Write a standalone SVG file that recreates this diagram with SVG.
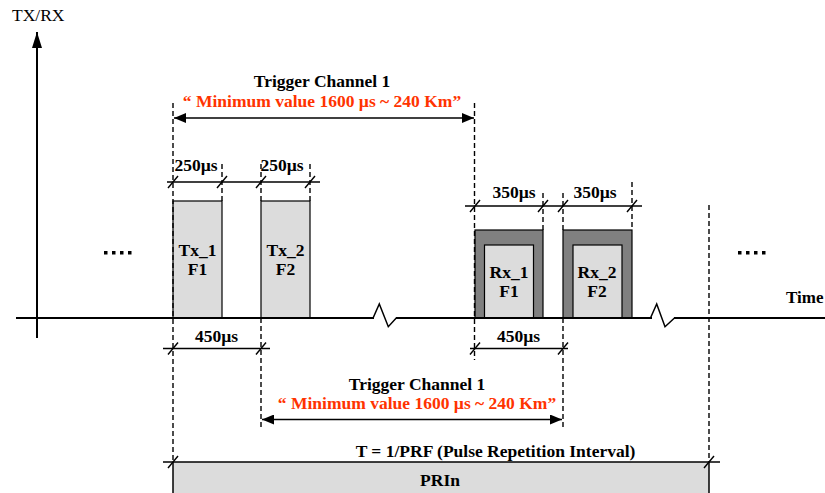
<svg xmlns="http://www.w3.org/2000/svg" width="825" height="493" viewBox="0 0 825 493">
<style>
text{font-family:"Liberation Serif","Times New Roman",serif;font-size:17.5px;font-weight:bold;fill:#000}
.c{text-anchor:middle}
.red{fill:#ff3300}
.reg{font-weight:normal;font-size:17.5px}
.ax{stroke:#000;stroke-width:2;fill:none}
.ln{stroke:#000;stroke-width:1.5;fill:none}
.dash{stroke:#000;stroke-width:1.4;stroke-dasharray:5,3;fill:none}
.tick{stroke:#000;stroke-width:1.4}
.lt{fill:#dcdcdc;stroke:#000;stroke-width:1.2}
.dk{fill:#808080;stroke:#000;stroke-width:1.2}
</style>
<defs>
<marker id="ah" viewBox="0 0 12 10" refX="12" refY="5" markerWidth="12" markerHeight="10" markerUnits="userSpaceOnUse" orient="auto-start-reverse">
<path d="M0,0 L12,5 L0,10 Z" fill="#000"/>
</marker>
<marker id="ahy" viewBox="0 0 10 16" refX="5" refY="0" markerWidth="10" markerHeight="16" markerUnits="userSpaceOnUse" orient="0">
<path d="M5,0 L10,16 L0,16 Z" fill="#000"/>
</marker>
</defs>

<g id="nodes">
<g id="pulse-tx1"><rect class="lt" x="173" y="201" width="49" height="117"/><text class="c" x="197.5" y="256">Tx_1</text><text class="c" x="197.5" y="275">F1</text></g>
<g id="pulse-tx2"><rect class="lt" x="261" y="201" width="49" height="117"/><text class="c" x="285.5" y="256">Tx_2</text><text class="c" x="285.5" y="275">F2</text></g>
<g id="pulse-rx1"><rect class="dk" x="475" y="230" width="68" height="88"/><rect class="lt" x="484.5" y="245" width="49" height="73"/><text class="c" x="509" y="278">Rx_1</text><text class="c" x="509" y="297">F1</text></g>
<g id="pulse-rx2"><rect class="dk" x="563" y="230" width="69" height="88"/><rect class="lt" x="573" y="245" width="49" height="73"/><text class="c" x="597" y="278">Rx_2</text><text class="c" x="597" y="297">F2</text></g>
<g id="pri"><rect fill="#dcdcdc" x="173" y="462" width="536" height="40"/><line class="ln" x1="173" y1="462" x2="173" y2="493"/><line class="ln" x1="709" y1="462" x2="709" y2="493"/><text class="c" x="440" y="486">PRIn</text></g>
</g>

<g id="connectors">
<!-- axes -->
<line class="ax" x1="37" y1="338" x2="37" y2="32" marker-end="url(#ahy)"/>
<line class="ax" x1="16" y1="318" x2="825" y2="318"/>
<line stroke="#fff" stroke-width="3" x1="374" y1="318" x2="396" y2="318"/>
<polyline class="ln" points="373.3,317.5 379.3,304 388.3,326.7 396.7,317.5"/>
<line stroke="#fff" stroke-width="3" x1="652" y1="318" x2="674" y2="318"/>
<polyline class="ln" points="650.7,317.5 656.7,304 665,326.7 675,317.5"/>

<!-- dashed guides -->
<line class="dash" x1="173" y1="103" x2="173" y2="462"/>
<line class="dash" x1="222" y1="164" x2="222" y2="201"/>
<line class="dash" x1="261" y1="164" x2="261" y2="201"/>
<line class="dash" x1="261" y1="318" x2="261" y2="430"/>
<line class="dash" x1="310" y1="164" x2="310" y2="201"/>
<line class="dash" x1="474.5" y1="103" x2="474.5" y2="360"/>
<line class="dash" x1="543" y1="193" x2="543" y2="230"/>
<line class="dash" x1="563" y1="193" x2="563" y2="230"/>
<line class="dash" x1="563" y1="318" x2="563" y2="428"/>
<line class="dash" x1="632" y1="182" x2="632" y2="230"/>
<line class="dash" x1="709" y1="205" x2="709" y2="462"/>

<!-- trigger arrows -->
<line class="ln" x1="174" y1="118" x2="474" y2="118" marker-start="url(#ah)" marker-end="url(#ah)"/>
<line class="ln" x1="262" y1="419.5" x2="562" y2="419.5" marker-start="url(#ah)" marker-end="url(#ah)"/>

<!-- dimension lines -->
<line class="ln" x1="167" y1="182" x2="320" y2="182"/>
<line class="ln" x1="465" y1="206" x2="642" y2="206"/>
<line class="ln" x1="163" y1="348.5" x2="270" y2="348.5"/>
<line class="ln" x1="470" y1="348.5" x2="568" y2="348.5"/>
<line class="ln" x1="163" y1="462" x2="720" y2="462"/>

<!-- ticks -->
<g class="tick">
<line x1="168" y1="188" x2="178" y2="176"/>
<line x1="217" y1="188" x2="227" y2="176"/>
<line x1="256" y1="188" x2="266" y2="176"/>
<line x1="305" y1="188" x2="315" y2="176"/>
<line x1="470" y1="212" x2="480" y2="200"/>
<line x1="538" y1="212" x2="548" y2="200"/>
<line x1="558" y1="212" x2="568" y2="200"/>
<line x1="627" y1="212" x2="637" y2="200"/>
<line x1="168" y1="354.5" x2="178" y2="342.5"/>
<line x1="256" y1="354.5" x2="266" y2="342.5"/>
<line x1="470" y1="354.5" x2="480" y2="342.5"/>
<line x1="558" y1="354.5" x2="568" y2="342.5"/>
<line x1="168" y1="468" x2="178" y2="456"/>
<line x1="704" y1="468" x2="714" y2="456"/>
</g>
</g>

<g id="labels">
<text class="reg" x="12" y="21">TX/RX</text>
<text x="786" y="303" style="font-size:17px">Time</text>
<text class="c" x="322" y="87">Trigger Channel 1</text>
<text class="c red" x="322" y="107">“ Minimum value 1600 µs ~ 240 Km”</text>
<text class="c" x="417" y="390">Trigger Channel 1</text>
<text class="c red" x="417" y="409">“ Minimum value 1600 µs ~ 240 Km”</text>
<text class="c" x="196" y="171">250µs</text>
<text class="c" x="282" y="171">250µs</text>
<text class="c" x="514" y="198">350µs</text>
<text class="c" x="595" y="198">350µs</text>
<text class="c" x="216.5" y="342">450µs</text>
<text class="c" x="518.5" y="342">450µs</text>
<text class="c" x="495.5" y="457">T = 1/PRF (Pulse Repetition Interval)</text>
<g fill="#000">
<rect x="104" y="251" width="3.5" height="3.5"/><rect x="112" y="251" width="3.5" height="3.5"/><rect x="120" y="251" width="3.5" height="3.5"/><rect x="128" y="251" width="3.5" height="3.5"/>
<rect x="738" y="251" width="3.5" height="3.5"/><rect x="746" y="251" width="3.5" height="3.5"/><rect x="754" y="251" width="3.5" height="3.5"/><rect x="762" y="251" width="3.5" height="3.5"/>
</g>
</g>
</svg>
